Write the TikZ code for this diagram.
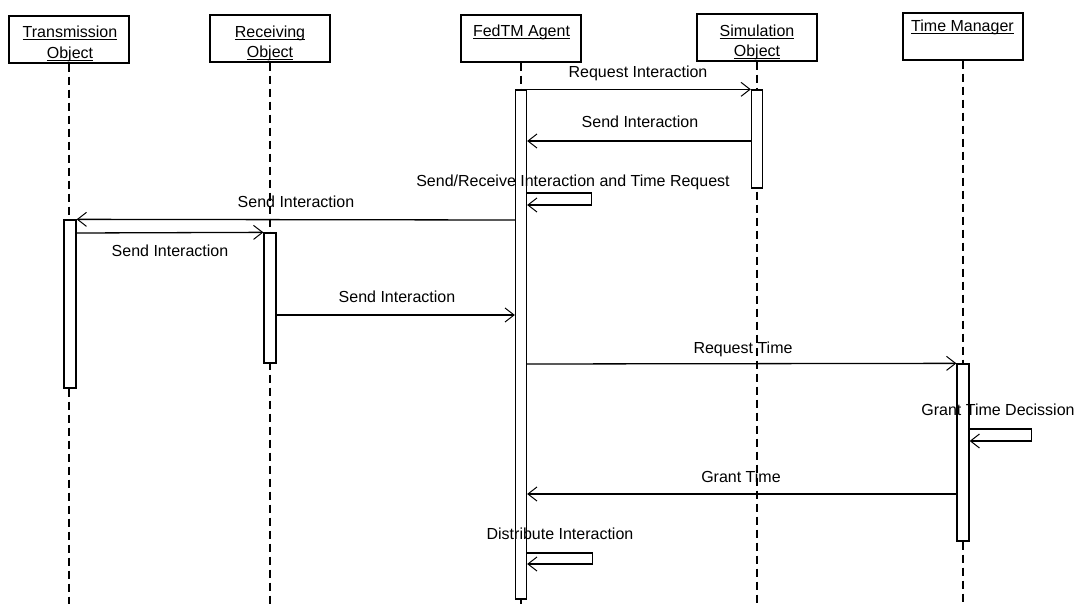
\documentclass[tikz,border=0pt]{standalone}
\usepackage{fontspec}
\setmainfont{Liberation Sans}
\usetikzlibrary{arrows.meta}
\newcommand\lblfont{\fontsize{16}{19}\selectfont}
\newcommand\ulname[1]{\underline{\smash{#1}}}
\begin{document}
\begin{tikzpicture}[x=1pt,y=-1pt,
  lbl/.style={font=\lblfont, inner sep=0pt, anchor=base},
  obj/.style={draw, line width=1.4pt, minimum width=120pt, minimum height=47pt, inner sep=0pt},
  actbar/.style={draw, fill=white, line width=1.3pt, minimum width=11pt, inner sep=0pt},
  life/.style={line width=1.5pt, dash pattern=on 8pt off 5pt},
  msg/.style={line width=1.3pt, -{Straight Barb[length=9pt,width=14pt,line width=1pt]}}]
\useasboundingbox (0,0) rectangle (1080,604);

% object boxes
\node[obj] (tO) at (69,39.5) {};
\node[obj] (rO) at (270,38.5) {};
\node[obj] (fO) at (521,38.5) {};
\node[obj] (sO) at (757,37.5) {};
\node[obj] (mO) at (963,36.5) {};

\node[lbl] (tO1) at (70,37.5) {\ulname{Transmission}};
\node[lbl] (tO2) at (70,58.5) {\ulname{Object}};
\node[lbl] (rO1) at (270,37.5) {\ulname{Receiving}};
\node[lbl] (rO2) at (270,58) {\ulname{Object}};
\node[lbl] (fO1) at (521.5,36.5) {\ulname{FedTM Agent}};
\node[lbl] (sO1) at (757,36.5) {\ulname{Simulation}};
\node[lbl] (sO2) at (757,57) {\ulname{Object}};
\node[lbl] (mO1) at (962.5,32) {\ulname{Time Manager}};

% lifelines
\draw[life] (tO.south) -- (tO.south |- 0,604);
\draw[life] (rO.south) -- (rO.south |- 0,604);
\draw[life] (fO.south) -- (fO.south |- 0,604);
\draw[life] (sO.south) -- (sO.south |- 0,604);
\draw[life] (mO.south) -- (mO.south |- 0,604);

% activation bars
\node[actbar, minimum width=12pt, minimum height=168pt] (tA) at (70,304) {};
\node[actbar, minimum width=12pt, minimum height=130pt] (rA) at (270,298) {};
\node[actbar, minimum height=509pt] (fA) at (521,344.5) {};
\node[actbar, minimum height=98pt] (sA) at (757,139) {};
\node[actbar, minimum width=12pt, minimum height=177pt] (mA) at (963,452.5) {};

% messages
\draw[msg] (fA.north east) -- (sA.north west);
\node[lbl] (l1) at (638,77.5) {Request Interaction};

\draw[msg] (sA.west |- 0,141) -- (fA.east |- 0,141);
\node[lbl] (l2) at (640,127.5) {Send Interaction};

\draw[msg] (fA.east |- 0,193) -- ++(64,0) -- ++(0,12) -- (fA.east |- 0,205);
\node[lbl] (l3) at (573,186.5) {Send/Receive Interaction and Time Request};

\draw[msg] (fA.west |- 0,220) -- (tA.north east);
\node[lbl] (l4) at (296,207.5) {Send Interaction};

\draw[msg] (tA.east |- 0,233) -- (rA.north west);
\node[lbl] (l5) at (170,256.5) {Send Interaction};

\draw[msg] (rA.east |- 0,315) -- (fA.west |- 0,315);
\node[lbl] (l6) at (397,302.5) {Send Interaction};

\draw[msg] (fA.east |- 0,364) -- (mA.north west);
\node[lbl] (l7) at (743,353.5) {Request Time};

\draw[msg] (mA.east |- 0,429) -- ++(62,0) -- ++(0,12) -- (mA.east |- 0,441);
\node[lbl] (l8) at (998,415.5) {Grant Time Decission};

\draw[msg] (mA.west |- 0,494) -- (fA.east |- 0,494);
\node[lbl] (l9) at (741,482.5) {Grant Time};

\draw[msg] (fA.east |- 0,553) -- ++(65,0) -- ++(0,11) -- (fA.east |- 0,564);
\node[lbl] (l10) at (560,539.5) {Distribute Interaction};
\end{tikzpicture}
\end{document}
